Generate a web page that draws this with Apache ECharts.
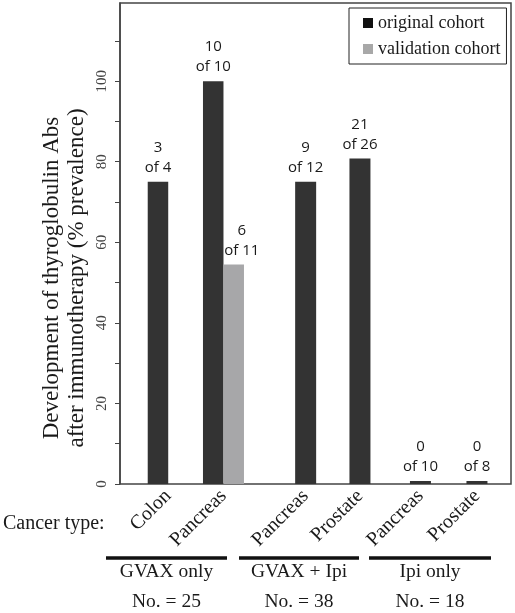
<!DOCTYPE html>
<html>
<head>
<meta charset="utf-8">
<script src="https://cdn.jsdelivr.net/npm/echarts@6/dist/echarts.min.js"></script>
<style>html,body{margin:0;padding:0;background:#fff;}#c{width:515px;height:613px;}</style>
</head>
<body>
<div id="c"></div>
<script>
// ---- data ----
const gvaxCats = ['Colon', 'Pancreas'];
const gvaxOrig = [75, 100];
const gvaxOrigPos = [3, 10];
const gvaxOrigTot = [4, 10];
const gvaxVal = [null, 54.5];
const gvaxValPos = [null, 6];
const gvaxValTot = [null, 11];

const gvaxIpiCats = ['Pancreas', 'Prostate'];
const gvaxIpiOrig = [75, 80.8];
const gvaxIpiPos = [9, 21];
const gvaxIpiTot = [12, 26];

const ipiCats = ['Pancreas', 'Prostate'];
const ipiOrig = [0, 0];
const ipiPos = [0, 0];
const ipiTot = [10, 8];

const groupNames = ['GVAX only', 'GVAX + Ipi', 'Ipi only'];
const groupN = [25, 38, 18];
const yTicks = [0, 10, 20, 30, 40, 50, 60, 70, 80, 90, 100, 110];
const yLabels = [0, 20, 40, 60, 80, 100];

// ---- style ----
const SERIF = '"Liberation Serif", "Times New Roman", serif';
const SANS = '"Open Sans", "Noto Sans", sans-serif';
const DARK = '#333333';
const GRAY = '#a7a7a9';
const YMAX = 119.4;
const TOP = 3, BOTTOM = 129;

function lbl(pos, tot, off) {
  return {
    show: true, position: 'top', distance: 4, offset: off || [0, 0],
    fontFamily: SANS, fontSize: 15, lineHeight: 20, color: '#1a1a1a',
    formatter: p => pos[p.dataIndex] == null ? '' : pos[p.dataIndex] + '\nof ' + tot[p.dataIndex]
  };
}
function subX(idx, cats) {
  return {
    type: 'category', gridIndex: idx, data: cats,
    axisLine: {show: false}, axisTick: {show: false},
    axisLabel: {rotate: 45, margin: 9, fontFamily: SERIF, fontSize: 20, color: '#1a1a1a', interval: 0}
  };
}
function subY(idx) {
  return {type: 'value', gridIndex: idx, min: 0, max: YMAX, show: false, splitLine: {show: false}};
}

const chart = echarts.init(document.getElementById('c'), null, {renderer: 'canvas'});
const groupLines = [[106, 227], [239, 359], [369, 491]];
const graphics = [
  {type: 'text', x: 64.5, y: 278, rotation: Math.PI / 2,
   style: {text: 'Development of thyroglobulin Abs\nafter immunotherapy (% prevalence)',
     font: '23px ' + SERIF, fill: '#1a1a1a', align: 'center', verticalAlign: 'middle', lineHeight: 25}},
  {type: 'text', x: 3, y: 524,
   style: {text: 'Cancer type:', font: '20px ' + SERIF, fill: '#1a1a1a', align: 'left', verticalAlign: 'middle'}}
];
groupLines.forEach((g, i) => {
  graphics.push({type: 'line', shape: {x1: g[0], y1: 558, x2: g[1], y2: 558}, style: {stroke: '#111', lineWidth: 3.5}});
  graphics.push({type: 'text', x: (g[0] + g[1]) / 2, y: 587,
    style: {text: groupNames[i] + '\nNo. = ' + groupN[i], font: '19.5px ' + SERIF, fill: '#1a1a1a',
      align: 'center', verticalAlign: 'middle', lineHeight: 30}});
});

chart.setOption({
  animation: false,
  backgroundColor: '#fff',
  legend: {
    orient: 'vertical', left: 349, top: 8,
    padding: [6, 6, 6, 14], itemGap: 8, itemWidth: 10, itemHeight: 10,
    borderColor: '#222', borderWidth: 1,
    icon: 'rect',
    data: [{name: 'original cohort', itemStyle: {color: '#111'}}, {name: 'validation cohort', itemStyle: {color: '#a8a8a8'}}],
    textStyle: {fontFamily: SERIF, fontSize: 18, color: '#1a1a1a'}
  },
  grid: [
    {left: 120, right: 4, top: TOP, bottom: BOTTOM, show: true, borderColor: '#444', borderWidth: 1.5, backgroundColor: 'transparent'},
    {left: 140.6, width: 110.5, top: TOP, bottom: BOTTOM},
    {left: 278.5, width: 108.6, top: TOP, bottom: BOTTOM},
    {left: 392.2, width: 113, top: TOP, bottom: BOTTOM}
  ],
  xAxis: [
    {type: 'value', gridIndex: 0, show: false, min: 0, max: 1},
    subX(1, gvaxCats), subX(2, gvaxIpiCats), subX(3, ipiCats)
  ],
  yAxis: [
    {type: 'value', gridIndex: 0, min: 0, max: YMAX, interval: 10,
     axisLine: {show: true, lineStyle: {color: '#444', width: 1.5}},
     axisTick: {show: true, length: 5, lineStyle: {color: '#444'}, customValues: yTicks},
     axisLabel: {rotate: 90, margin: 10, fontFamily: SERIF, fontSize: 15, color: '#444', customValues: yLabels},
     splitLine: {show: false}},
    subY(1), subY(2), subY(3)
  ],
  series: [
    {name: 'original cohort', type: 'bar', xAxisIndex: 1, yAxisIndex: 1, data: gvaxOrig, barWidth: 20.5, barGap: '0%',
     itemStyle: {color: DARK}, label: lbl(gvaxOrigPos, gvaxOrigTot)},
    {name: 'validation cohort', type: 'bar', xAxisIndex: 1, yAxisIndex: 1, data: gvaxVal, barWidth: 20.5, barGap: '0%',
     itemStyle: {color: GRAY}, label: lbl(gvaxValPos, gvaxValTot, [8, 0])},
    {name: 'original cohort', type: 'bar', xAxisIndex: 2, yAxisIndex: 2, data: gvaxIpiOrig, barWidth: 21,
     itemStyle: {color: DARK}, label: lbl(gvaxIpiPos, gvaxIpiTot)},
    {name: 'original cohort', type: 'bar', xAxisIndex: 3, yAxisIndex: 3, data: ipiOrig, barWidth: 21, barMinHeight: 3,
     itemStyle: {color: DARK}, label: lbl(ipiPos, ipiTot)}
  ],
  graphic: graphics
});
</script>
</body>
</html>
